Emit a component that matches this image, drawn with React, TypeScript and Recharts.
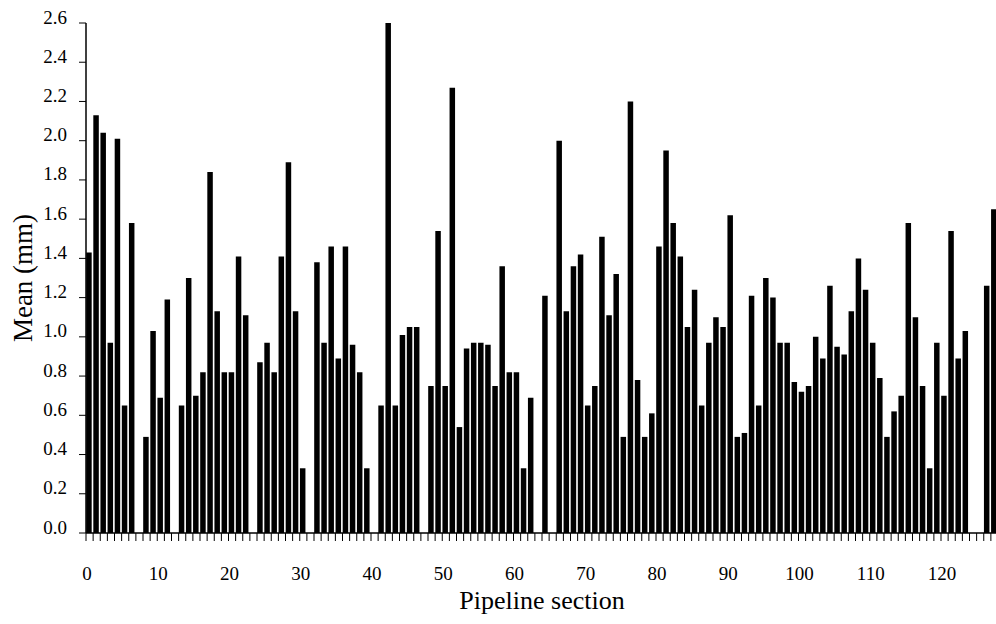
import React from "react";
import { BarChart, Bar, XAxis, YAxis, Rectangle, Label } from "recharts";

// pipeline sections 0..127, mean wall loss (mm); null = no measurement
const sections = Array.from({ length: 128 }, (_, i) => i);

const meanValues: (number | null)[] = [
  1.43, 2.13, 2.04, 0.97, 2.01, 0.65, 1.58, null, 0.49, 1.03,
  0.69, 1.19, null, 0.65, 1.3, 0.7, 0.82, 1.84, 1.13, 0.82,
  0.82, 1.41, 1.11, null, 0.87, 0.97, 0.82, 1.41, 1.89, 1.13,
  0.33, null, 1.38, 0.97, 1.46, 0.89, 1.46, 0.96, 0.82, 0.33,
  null, 0.65, 2.6, 0.65, 1.01, 1.05, 1.05, null, 0.75, 1.54,
  0.75, 2.27, 0.54, 0.94, 0.97, 0.97, 0.96, 0.75, 1.36, 0.82,
  0.82, 0.33, 0.69, null, 1.21, null, 2.0, 1.13, 1.36, 1.42,
  0.65, 0.75, 1.51, 1.11, 1.32, 0.49, 2.2, 0.78, 0.49, 0.61,
  1.46, 1.95, 1.58, 1.41, 1.05, 1.24, 0.65, 0.97, 1.1, 1.05,
  1.62, 0.49, 0.51, 1.21, 0.65, 1.3, 1.2, 0.97, 0.97, 0.77,
  0.72, 0.75, 1.0, 0.89, 1.26, 0.95, 0.91, 1.13, 1.4, 1.24,
  0.97, 0.79, 0.49, 0.62, 0.7, 1.58, 1.1, 0.75, 0.33, 0.97,
  0.7, 1.54, 0.89, 1.03, null, null, 1.26, 1.65,
];

const yTicks = [0, 0.2, 0.4, 0.6, 0.8, 1.0, 1.2, 1.4, 1.6, 1.8, 2.0, 2.2, 2.4, 2.6];

const data = sections.map((s, i) => ({ section: s, mean: meanValues[i] }));

const FONT = '"Liberation Serif", "Times New Roman", serif';

const XTick = (props: any) => {
  const { x, y, payload } = props;
  if (payload.value % 10 !== 0) return <g />;
  return (
    <text x={x + 1} y={y + 39} textAnchor="middle" fontSize={19} fontFamily={FONT} fill="#000">
      {payload.value}
    </text>
  );
};

const YTick = (props: any) => {
  const { x, y, payload } = props;
  return (
    <text x={x - 12} y={y + 0.5} textAnchor="end" fontSize={19} fontFamily={FONT} fill="#000">
      {Number(payload.value).toFixed(1)}
    </text>
  );
};

// bars sit just right of their tick, like the original plot
const SectionBar = (props: any) => {
  if (props.value == null || !props.height) return <g />;
  return <Rectangle {...props} x={props.x + props.width / 2} fill="#000" />;
};

export default function App() {
  return (
    <div
      style={{
        position: "absolute",
        left: 0,
        top: 0,
        width: 996,
        height: 624,
        overflow: "hidden",
        background: "#fff",
      }}
    >
      <BarChart
        width={1000}
        height={624}
        data={data}
        margin={{ top: 23, right: 2, bottom: 0, left: 0 }}
        barSize={5.5}
      >
        <XAxis
          dataKey="section"
          type="number"
          domain={[0, 128]}
          ticks={sections}
          interval={0}
          height={91}
          tickSize={8}
          tickMargin={0}
          tick={<XTick />}
          axisLine={{ stroke: "#000", strokeWidth: 1.5 }}
          tickLine={{ stroke: "#000", strokeWidth: 1 }}
          allowDataOverflow
        >
          <Label
            content={(p: any) => {
              const vb = p.viewBox;
              return (
                <text
                  x={vb.x + vb.width / 2}
                  y={609}
                  textAnchor="middle"
                  fontSize={26}
                  fontFamily={FONT}
                  fill="#000"
                >
                  Pipeline section
                </text>
              );
            }}
          />
        </XAxis>
        <YAxis
          type="number"
          domain={[0, 2.6]}
          ticks={yTicks}
          interval={0}
          width={86}
          tickSize={7}
          tickMargin={0}
          tick={<YTick />}
          axisLine={{ stroke: "#000", strokeWidth: 1.5 }}
          tickLine={{ stroke: "#000", strokeWidth: 1 }}
        >
          <Label
            content={(p: any) => {
              const vb = p.viewBox;
              const cx = 32;
              const cy = vb.y + vb.height / 2;
              return (
                <text
                  x={cx}
                  y={cy}
                  transform={`rotate(-90 ${cx} ${cy})`}
                  textAnchor="middle"
                  fontSize={27}
                  fontFamily={FONT}
                  fill="#000"
                >
                  Mean (mm)
                </text>
              );
            }}
          />
        </YAxis>
        <Bar dataKey="mean" fill="#000" isAnimationActive={false} shape={<SectionBar />} />
      </BarChart>
    </div>
  );
}
